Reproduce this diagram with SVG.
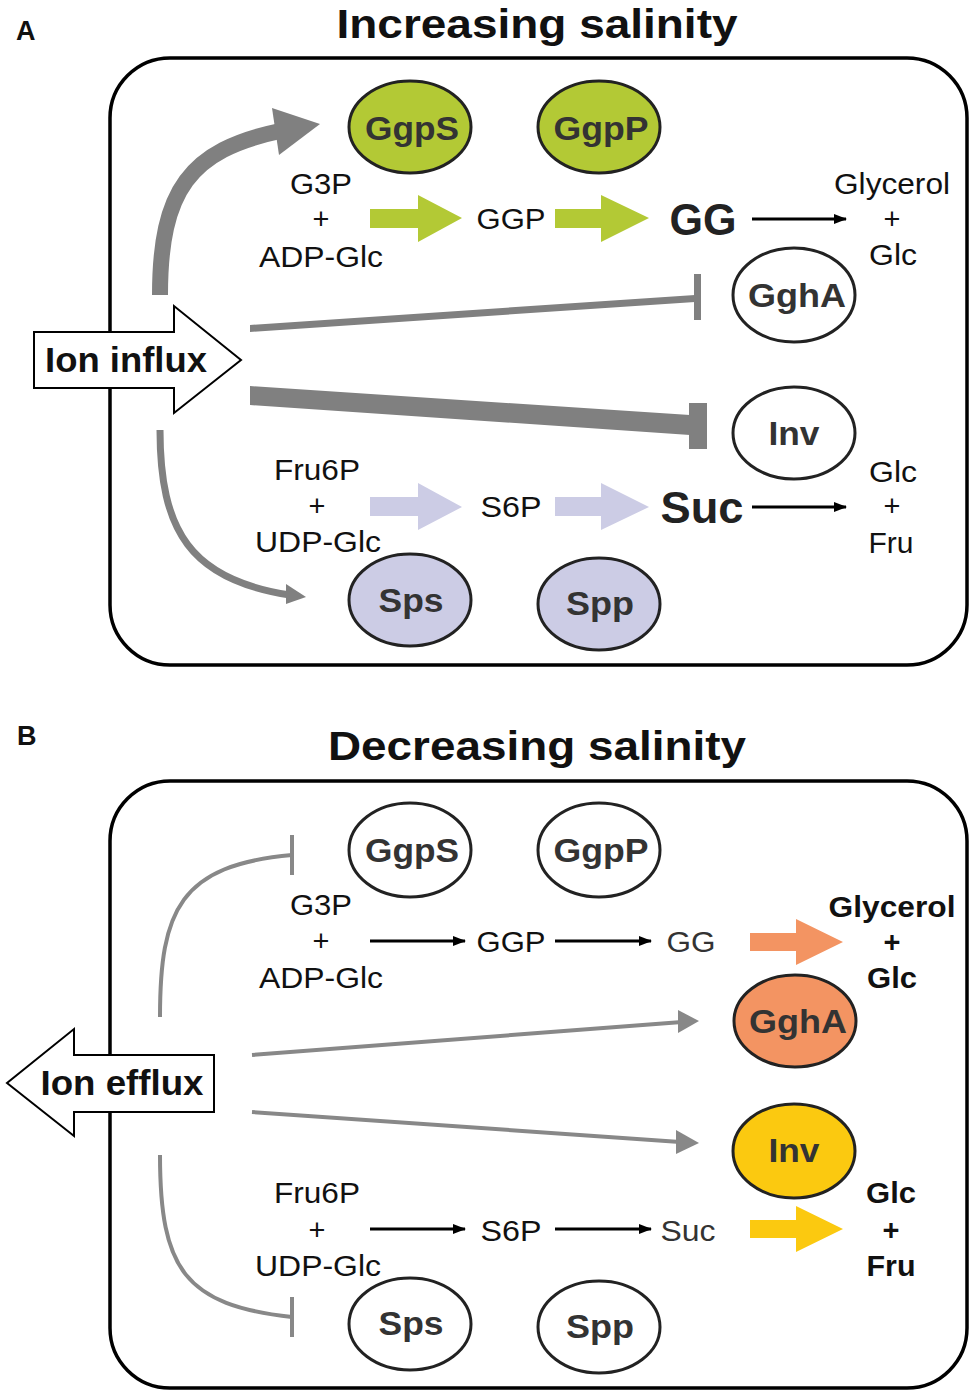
<svg xmlns="http://www.w3.org/2000/svg" width="974" height="1396" viewBox="0 0 974 1396">
<style>
text{font-family:"Liberation Sans",Arial,sans-serif;text-anchor:middle}
.t{font-size:29px;fill:#111}
.tb{font-size:29px;font-weight:bold;fill:#111}
.lab{font-size:34px;font-weight:bold;fill:#333}
.title{font-size:41px;font-weight:bold;fill:#111}
.pl{font-size:27px;font-weight:bold;fill:#111;text-anchor:start}
.box{fill:none;stroke:#000;stroke-width:3.5}
.ell{stroke:#222;stroke-width:3}
.blk{stroke:#000;stroke-width:3;fill:none}
.gray{fill:#808080}
.gs{stroke:#888;fill:none;stroke-width:4}
</style>
<defs>
<marker id="ah" markerUnits="userSpaceOnUse" markerWidth="14" markerHeight="12" refX="12" refY="6" orient="auto">
<path d="M0,1 L13,6 L0,11 Z" fill="#000"/>
</marker>
</defs>

<text class="pl" x="16" y="40">A</text>
<text class="title" x="537" y="38" textLength="401" lengthAdjust="spacingAndGlyphs">Increasing salinity</text>
<rect class="box" x="110" y="58" width="857" height="607" rx="60"/>

<text class="pl" x="17" y="745">B</text>
<text class="title" x="537" y="760" textLength="418" lengthAdjust="spacingAndGlyphs">Decreasing salinity</text>
<rect class="box" x="110" y="781" width="857" height="607" rx="60"/>

<g id="connectors">
<!-- Panel A -->
<path d="M160,295 C160,190 190,150 280,131" stroke="#808080" stroke-width="16" fill="none"/>
<polygon class="gray" points="272,108 320,124 279,155"/>
<polygon class="gray" points="250,325 695,295 695,302 250,332"/>
<rect class="gray" x="694" y="274" width="7" height="46"/>
<polygon class="gray" points="250,386 690,415 690,435 250,405"/>
<rect class="gray" x="689" y="403" width="18" height="46"/>
<path d="M160,430 C160,530 190,580 290,595" stroke="#808080" stroke-width="7" fill="none"/>
<polygon class="gray" points="286,584 306,597 286,604"/>
<polygon fill="#b3c935" points="370,209 418,209 418,195 462,218 418,242 418,228 370,228"/>
<polygon fill="#b3c935" points="555,209 601,209 601,195 649,218 601,242 601,228 555,228"/>
<line class="blk" x1="752" y1="219" x2="846" y2="219" marker-end="url(#ah)"/>
<polygon fill="#cccce5" points="370,497 418,497 418,483 462,507 418,530 418,516 370,516"/>
<polygon fill="#cccce5" points="555,497 601,497 601,483 649,507 601,530 601,516 555,516"/>
<line class="blk" x1="752" y1="507" x2="846" y2="507" marker-end="url(#ah)"/>
<!-- Panel B -->
<path class="gs" d="M160,1017 C160,910 180,865 292,855"/>
<line class="gs" x1="292" y1="835" x2="292" y2="875"/>
<path class="gs" d="M160,1155 C160,1270 185,1305 292,1317"/>
<line class="gs" x1="292" y1="1297" x2="292" y2="1337"/>
<line class="gs" x1="252" y1="1055" x2="682" y2="1022"/>
<polygon fill="#888" points="678,1010 699,1021 678,1033"/>
<line class="gs" x1="252" y1="1112" x2="680" y2="1142"/>
<polygon fill="#888" points="676,1130 699,1143 676,1154"/>
<line class="blk" x1="370" y1="941" x2="465" y2="941" marker-end="url(#ah)"/>
<line class="blk" x1="555" y1="941" x2="651" y2="941" marker-end="url(#ah)"/>
<line class="blk" x1="370" y1="1229" x2="465" y2="1229" marker-end="url(#ah)"/>
<line class="blk" x1="555" y1="1229" x2="651" y2="1229" marker-end="url(#ah)"/>
<polygon fill="#f39462" points="750,933 796,933 796,919 843,942 796,965 796,951 750,951"/>
<polygon fill="#fbc910" points="750,1220 796,1220 796,1206 843,1229 796,1252 796,1238 750,1238"/>
</g>

<!-- Panel A nodes -->
<g id="ion-influx">
<polygon points="34,332 174,332 174,306 241,360 174,413 174,388 34,388" fill="#fff" stroke="#000" stroke-width="2"/>
<text x="126" y="372" style="font-size:35px;font-weight:bold;fill:#111" textLength="162" lengthAdjust="spacingAndGlyphs">Ion influx</text>
</g>
<g id="a-ggps"><ellipse class="ell" cx="410" cy="127" rx="61" ry="46" fill="#b3c935"/><text class="lab" x="412" y="140" textLength="94" lengthAdjust="spacingAndGlyphs">GgpS</text></g>
<g id="a-ggpp"><ellipse class="ell" cx="599" cy="127" rx="61" ry="46" fill="#b3c935"/><text class="lab" x="601" y="140" textLength="95" lengthAdjust="spacingAndGlyphs">GgpP</text></g>
<g id="a-ggha"><ellipse class="ell" cx="794" cy="295" rx="61" ry="47" fill="#fff"/><text class="lab" x="797" y="307" textLength="98" lengthAdjust="spacingAndGlyphs">GghA</text></g>
<g id="a-inv"><ellipse class="ell" cx="794" cy="433" rx="61" ry="46" fill="#fff"/><text class="lab" x="794" y="445" textLength="51" lengthAdjust="spacingAndGlyphs">Inv</text></g>
<g id="a-sps"><ellipse class="ell" cx="410" cy="600" rx="61" ry="46" fill="#cccce5"/><text class="lab" x="411" y="612" textLength="65" lengthAdjust="spacingAndGlyphs">Sps</text></g>
<g id="a-spp"><ellipse class="ell" cx="599" cy="604" rx="61" ry="46" fill="#cccce5"/><text class="lab" x="600" y="615" textLength="68" lengthAdjust="spacingAndGlyphs">Spp</text></g>
<g id="a-g3p">
<text class="t" x="321" y="194" textLength="62" lengthAdjust="spacingAndGlyphs">G3P</text>
<text class="t" x="321" y="229">+</text>
<text class="t" x="321" y="267" textLength="124" lengthAdjust="spacingAndGlyphs">ADP-Glc</text>
</g>
<g id="a-ggp"><text class="t" x="511" y="229" textLength="69" lengthAdjust="spacingAndGlyphs">GGP</text></g>
<g id="a-gg"><text x="703" y="235" style="font-size:44px;font-weight:bold;fill:#222" textLength="67" lengthAdjust="spacingAndGlyphs">GG</text></g>
<g id="a-glycerol">
<text class="t" x="892" y="194" textLength="116" lengthAdjust="spacingAndGlyphs">Glycerol</text>
<text class="t" x="892" y="229">+</text>
<text class="t" x="893" y="265" textLength="48" lengthAdjust="spacingAndGlyphs">Glc</text>
</g>
<g id="a-fru6p">
<text class="t" x="317" y="480" textLength="86" lengthAdjust="spacingAndGlyphs">Fru6P</text>
<text class="t" x="317" y="516">+</text>
<text class="t" x="318" y="552" textLength="126" lengthAdjust="spacingAndGlyphs">UDP-Glc</text>
</g>
<g id="a-s6p"><text class="t" x="511" y="517" textLength="61" lengthAdjust="spacingAndGlyphs">S6P</text></g>
<g id="a-suc"><text x="702" y="523" style="font-size:45px;font-weight:bold;fill:#222" textLength="83" lengthAdjust="spacingAndGlyphs">Suc</text></g>
<g id="a-glcfru">
<text class="t" x="893" y="482" textLength="48" lengthAdjust="spacingAndGlyphs">Glc</text>
<text class="t" x="892" y="516">+</text>
<text class="t" x="891" y="553" textLength="45" lengthAdjust="spacingAndGlyphs">Fru</text>
</g>

<!-- Panel B nodes -->
<g id="ion-efflux">
<polygon points="214,1055 74,1055 74,1029 7,1083 74,1136 74,1112 214,1112" fill="#fff" stroke="#000" stroke-width="2"/>
<text x="122" y="1095" style="font-size:35px;font-weight:bold;fill:#111" textLength="163" lengthAdjust="spacingAndGlyphs">Ion efflux</text>
</g>
<g id="b-ggps"><ellipse class="ell" cx="410" cy="850" rx="61" ry="47" fill="#fff"/><text class="lab" x="412" y="862" textLength="94" lengthAdjust="spacingAndGlyphs">GgpS</text></g>
<g id="b-ggpp"><ellipse class="ell" cx="599" cy="850" rx="61" ry="47" fill="#fff"/><text class="lab" x="601" y="862" textLength="95" lengthAdjust="spacingAndGlyphs">GgpP</text></g>
<g id="b-ggha"><ellipse class="ell" cx="795" cy="1021" rx="61" ry="46" fill="#f39462"/><text class="lab" x="798" y="1033" textLength="98" lengthAdjust="spacingAndGlyphs">GghA</text></g>
<g id="b-inv"><ellipse class="ell" cx="794" cy="1151" rx="61" ry="47" fill="#fbc910"/><text class="lab" x="794" y="1162" textLength="51" lengthAdjust="spacingAndGlyphs">Inv</text></g>
<g id="b-sps"><ellipse class="ell" cx="410" cy="1324" rx="61" ry="46" fill="#fff"/><text class="lab" x="411" y="1335" textLength="65" lengthAdjust="spacingAndGlyphs">Sps</text></g>
<g id="b-spp"><ellipse class="ell" cx="599" cy="1327" rx="61" ry="46" fill="#fff"/><text class="lab" x="600" y="1338" textLength="68" lengthAdjust="spacingAndGlyphs">Spp</text></g>
<g id="b-g3p">
<text class="t" x="321" y="915" textLength="62" lengthAdjust="spacingAndGlyphs">G3P</text>
<text class="t" x="321" y="951">+</text>
<text class="t" x="321" y="988" textLength="124" lengthAdjust="spacingAndGlyphs">ADP-Glc</text>
</g>
<g id="b-ggp"><text class="t" x="511" y="952" textLength="69" lengthAdjust="spacingAndGlyphs">GGP</text></g>
<g id="b-gg"><text class="t" x="691" y="952" style="fill:#333" textLength="49" lengthAdjust="spacingAndGlyphs">GG</text></g>
<g id="b-glycerol">
<text class="tb" x="892" y="917" textLength="127" lengthAdjust="spacingAndGlyphs">Glycerol</text>
<text class="tb" x="892" y="952">+</text>
<text class="tb" x="892" y="988" textLength="50" lengthAdjust="spacingAndGlyphs">Glc</text>
</g>
<g id="b-fru6p">
<text class="t" x="317" y="1203" textLength="86" lengthAdjust="spacingAndGlyphs">Fru6P</text>
<text class="t" x="317" y="1240">+</text>
<text class="t" x="318" y="1276" textLength="126" lengthAdjust="spacingAndGlyphs">UDP-Glc</text>
</g>
<g id="b-s6p"><text class="t" x="511" y="1241" textLength="61" lengthAdjust="spacingAndGlyphs">S6P</text></g>
<g id="b-suc"><text class="t" x="688" y="1241" style="fill:#333" textLength="55" lengthAdjust="spacingAndGlyphs">Suc</text></g>
<g id="b-glcfru">
<text class="tb" x="891" y="1203" textLength="50" lengthAdjust="spacingAndGlyphs">Glc</text>
<text class="tb" x="891" y="1240">+</text>
<text class="tb" x="891" y="1276" textLength="49" lengthAdjust="spacingAndGlyphs">Fru</text>
</g>
</svg>
